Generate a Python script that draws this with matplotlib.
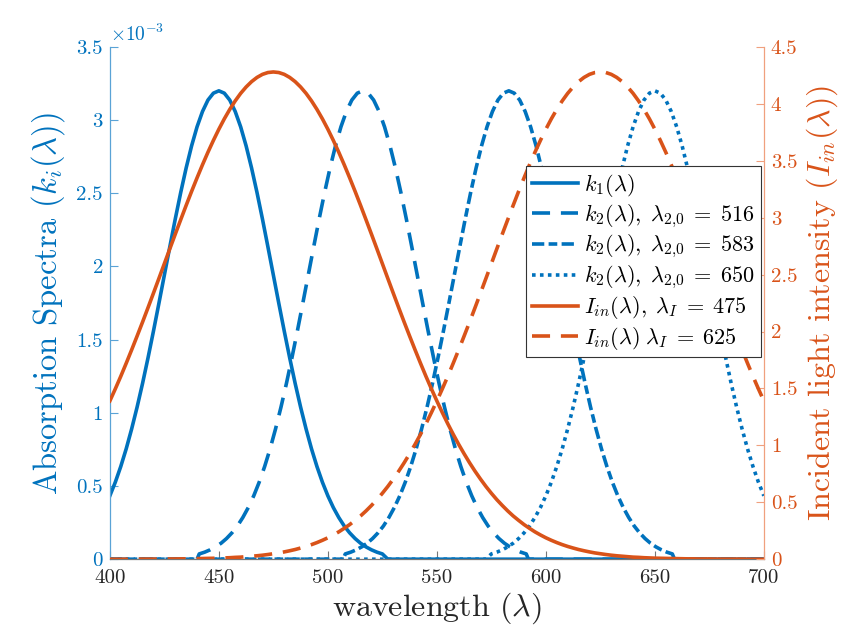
import numpy as np
import matplotlib
matplotlib.use("Agg")
import matplotlib.pyplot as plt
from matplotlib.ticker import FuncFormatter, FixedLocator

plt.rcParams['font.family'] = ['cmr10', 'DejaVu Serif']
plt.rcParams['mathtext.fontset'] = 'cm'
plt.rcParams['axes.formatter.use_mathtext'] = True

# ---------------- data ----------------
# absorption spectra (values in units of 1e-3), each read on its own wavelength samples
k1_wl = list(np.arange(400, 525.1, 2.5)) + [527.5, 700]
k1 = [0.433, 0.526, 0.633, 0.754, 0.890, 1.039, 1.201, 1.375, 1.558, 1.748,
      1.941, 2.134, 2.324, 2.505, 2.673, 2.824, 2.954, 3.059, 3.137, 3.184,
      3.200,
      3.184, 3.137, 3.059, 2.954, 2.824, 2.673, 2.505, 2.324, 2.134, 1.941,
      1.748, 1.558, 1.375, 1.201, 1.039, 0.890, 0.754, 0.633, 0.526, 0.433,
      0.353, 0.285, 0.227, 0.180, 0.141, 0.109, 0.084, 0.064, 0.048, 0.036,
      0, 0]

k2_516_wl = [400, 440] + list(np.arange(441, 591.1, 2.5)) + [592, 700]
k2_516 = [0, 0,
          0.036, 0.048, 0.064, 0.084, 0.109, 0.141, 0.180, 0.227, 0.285, 0.353,
          0.433, 0.526, 0.633, 0.754, 0.890, 1.039, 1.201, 1.375, 1.558, 1.748,
          1.941, 2.134, 2.324, 2.505, 2.673, 2.824, 2.954, 3.059, 3.137, 3.184,
          3.200,
          3.184, 3.137, 3.059, 2.954, 2.824, 2.673, 2.505, 2.324, 2.134, 1.941,
          1.748, 1.558, 1.375, 1.201, 1.039, 0.890, 0.754, 0.633, 0.526, 0.433,
          0.353, 0.285, 0.227, 0.180, 0.141, 0.109, 0.084, 0.064, 0.048, 0.036,
          0, 0]

k2_583_wl = [400, 507] + list(np.arange(508, 658.1, 2.5)) + [659, 700]
k2_583 = [0, 0,
          0.036, 0.048, 0.064, 0.084, 0.109, 0.141, 0.180, 0.227, 0.285, 0.353,
          0.433, 0.526, 0.633, 0.754, 0.890, 1.039, 1.201, 1.375, 1.558, 1.748,
          1.941, 2.134, 2.324, 2.505, 2.673, 2.824, 2.954, 3.059, 3.137, 3.184,
          3.200,
          3.184, 3.137, 3.059, 2.954, 2.824, 2.673, 2.505, 2.324, 2.134, 1.941,
          1.748, 1.558, 1.375, 1.201, 1.039, 0.890, 0.754, 0.633, 0.526, 0.433,
          0.353, 0.285, 0.227, 0.180, 0.141, 0.109, 0.084, 0.064, 0.048, 0.036,
          0, 0]

k2_650_wl = [400, 572.5] + list(np.arange(575, 700.1, 2.5))
k2_650 = [0, 0,
          0.036, 0.048, 0.064, 0.084, 0.109, 0.141, 0.180, 0.227, 0.285, 0.353,
          0.433, 0.526, 0.633, 0.754, 0.890, 1.039, 1.201, 1.375, 1.558, 1.748,
          1.941, 2.134, 2.324, 2.505, 2.673, 2.824, 2.954, 3.059, 3.137, 3.184,
          3.200,
          3.184, 3.137, 3.059, 2.954, 2.824, 2.673, 2.505, 2.324, 2.134, 1.941,
          1.748, 1.558, 1.375, 1.201, 1.039, 0.890, 0.754, 0.633, 0.526, 0.433]

# incident light intensity, read every 2.5 nm from 400 to 700
I_wl = np.arange(400, 700.1, 2.5)
I_475 = [1.390, 1.496, 1.606, 1.721, 1.839, 1.960, 2.083, 2.209, 2.337, 2.466,
         2.596, 2.726, 2.855, 2.982, 3.108, 3.231, 3.350, 3.465, 3.575, 3.679,
         3.777, 3.868, 3.951, 4.026, 4.092, 4.148, 4.195, 4.232, 4.259, 4.275,
         4.280,
         4.275, 4.259, 4.232, 4.195, 4.148, 4.092, 4.026, 3.951, 3.868, 3.777,
         3.679, 3.575, 3.465, 3.350, 3.231, 3.108, 2.982, 2.855, 2.726, 2.596,
         2.466, 2.337, 2.209, 2.083, 1.960, 1.839, 1.721, 1.606, 1.496, 1.390,
         1.288, 1.190, 1.097, 1.009, 0.926, 0.847, 0.773, 0.704, 0.639, 0.579,
         0.523, 0.472, 0.424, 0.380, 0.341, 0.304, 0.271, 0.240, 0.213, 0.188,
         0.166, 0.146, 0.128, 0.112, 0.098, 0.085, 0.074, 0.064, 0.055, 0.048,
         0.041, 0.035, 0.030, 0.026, 0.022, 0.018, 0.016, 0.013, 0.011, 0.009,
         0.008, 0.007, 0.006, 0.005, 0.004, 0.003, 0.003, 0.002, 0.002, 0.002,
         0.001, 0.001, 0.001, 0.001, 0.001, 0.001, 0.000, 0.000, 0.000, 0.000]
I_625 = [0.000, 0.000, 0.000, 0.000, 0.001, 0.001, 0.001, 0.001, 0.001, 0.001,
         0.002, 0.002, 0.002, 0.003, 0.003, 0.004, 0.005, 0.006, 0.007, 0.008,
         0.009, 0.011, 0.013, 0.016, 0.018, 0.022, 0.026, 0.030, 0.035, 0.041,
         0.048, 0.055, 0.064, 0.074, 0.085, 0.098, 0.112, 0.128, 0.146, 0.166,
         0.188, 0.213, 0.240, 0.271, 0.304, 0.341, 0.380, 0.424, 0.472, 0.523,
         0.579, 0.639, 0.704, 0.773, 0.847, 0.926, 1.009, 1.097, 1.190, 1.288,
         1.390, 1.496, 1.606, 1.721, 1.839, 1.960, 2.083, 2.209, 2.337, 2.466,
         2.596, 2.726, 2.855, 2.982, 3.108, 3.231, 3.350, 3.465, 3.575, 3.679,
         3.777, 3.868, 3.951, 4.026, 4.092, 4.148, 4.195, 4.232, 4.259, 4.275,
         4.280,
         4.275, 4.259, 4.232, 4.195, 4.148, 4.092, 4.026, 3.951, 3.868, 3.777,
         3.679, 3.575, 3.465, 3.350, 3.231, 3.108, 2.982, 2.855, 2.726, 2.596,
         2.466, 2.337, 2.209, 2.083, 1.960, 1.839, 1.721, 1.606, 1.496, 1.390]

labels = [r'$k_1(\lambda)$',
          r'$k_2(\lambda),\;\lambda_{2{,}0}\;=\;516$',
          r'$k_2(\lambda),\;\lambda_{2{,}0}\;=\;583$',
          r'$k_2(\lambda),\;\lambda_{2{,}0}\;=\;650$',
          r'$I_{in}(\lambda),\;\lambda_I\;=\;475$',
          r'$I_{in}(\lambda)\;\lambda_I\;=\;625$']
x_ticks = [400, 450, 500, 550, 600, 650, 700]
left_ticks = [0, 0.5, 1, 1.5, 2, 2.5, 3, 3.5]
right_ticks = [0, 0.5, 1, 1.5, 2, 2.5, 3, 3.5, 4, 4.5]

# ---------------- styling ----------------
BLUE = '#0072BD'
ORANGE = '#D95319'
DARK = '#262626'
LW = 2.6

fig = plt.figure(figsize=(8.45, 6.34), dpi=100)
ax = fig.add_axes([0.130, 0.118, 0.774, 0.808])
ax2 = ax.twinx()

scale = 1e-3
h1, = ax.plot(k1_wl, np.array(k1) * scale, color=BLUE, lw=LW, label=labels[0])
h2, = ax.plot(k2_516_wl, np.array(k2_516) * scale, color=BLUE, lw=LW,
              linestyle=(0, (5.0, 3.0)), label=labels[1])
h3, = ax.plot(k2_583_wl, np.array(k2_583) * scale, color=BLUE, lw=LW,
              linestyle=(0, (3.4, 1.2, 2.4, 1.2)), label=labels[2])
h4, = ax.plot(k2_650_wl, np.array(k2_650) * scale, color=BLUE, lw=LW,
              linestyle=(0, (1.0, 1.2)), label=labels[3])
h5, = ax2.plot(I_wl, I_475, color=ORANGE, lw=LW, label=labels[4])
h6, = ax2.plot(I_wl, I_625, color=ORANGE, lw=LW,
               linestyle=(0, (5.0, 3.0)), label=labels[5])

ax.set_xlim(400, 700)
ax.set_ylim(0, 3.5e-3)
ax2.set_ylim(0, 4.5)

ax.xaxis.set_major_locator(FixedLocator(x_ticks))
ax.yaxis.set_major_locator(FixedLocator([v * scale for v in left_ticks]))
ax.yaxis.set_major_formatter(FuncFormatter(lambda v, p: f'{v / scale:g}'))
ax2.yaxis.set_major_locator(FixedLocator(right_ticks))
ax2.yaxis.set_major_formatter(FuncFormatter(lambda v, p: f'{v:g}'))
ax.xaxis.set_major_formatter(FuncFormatter(lambda v, p: f'{v:g}'))

for a in (ax, ax2):
    a.spines['top'].set_visible(False)
ax.spines['right'].set_visible(False)
ax2.spines['left'].set_visible(False)
ax2.spines['bottom'].set_visible(False)
ax.spines['left'].set_color('#5aa3d6')
ax2.spines['right'].set_color('#f0a07e')
ax.spines['bottom'].set_color('#777777')
for s in ('left', 'bottom'):
    ax.spines[s].set_linewidth(0.9)
ax2.spines['right'].set_linewidth(0.9)

ax.tick_params(axis='x', direction='in', length=6, width=0.8, colors='#777777',
               labelcolor=DARK, labelsize=15, pad=7)
ax.tick_params(axis='y', direction='in', length=6, width=0.8, colors='#5aa3d6',
               labelcolor=BLUE, labelsize=15, pad=5)
ax2.tick_params(axis='y', direction='in', length=6, width=0.8, colors='#f0a07e',
                labelcolor=ORANGE, labelsize=15, pad=5)

ax.set_xlabel(r'wavelength $(\lambda)$', fontsize=23, color=DARK, labelpad=3)
ax.set_ylabel(r'Absorption Spectra $(k_i(\lambda))$', fontsize=23.5, color=BLUE, labelpad=7)
ax2.set_ylabel(r'Incident light intensity $(I_{in}(\lambda))$', fontsize=23, color=ORANGE,
               labelpad=5)

ax.text(0.0, 1.003, r'$\times10^{-3}$', transform=ax.transAxes, color=BLUE,
        fontsize=14, ha='left', va='bottom')

leg = ax2.legend(handles=[h1, h2, h3, h4, h5, h6], loc='upper right',
                 bbox_to_anchor=(0.995, 0.767), bbox_transform=ax.transAxes,
                 fontsize=16, frameon=True, fancybox=False, framealpha=1,
                 edgecolor='#333333', borderaxespad=0, handlelength=2.1,
                 handletextpad=0.25, labelspacing=0.15, borderpad=0.25)
leg.get_frame().set_linewidth(0.8)

fig.savefig('out.png', dpi=100)
